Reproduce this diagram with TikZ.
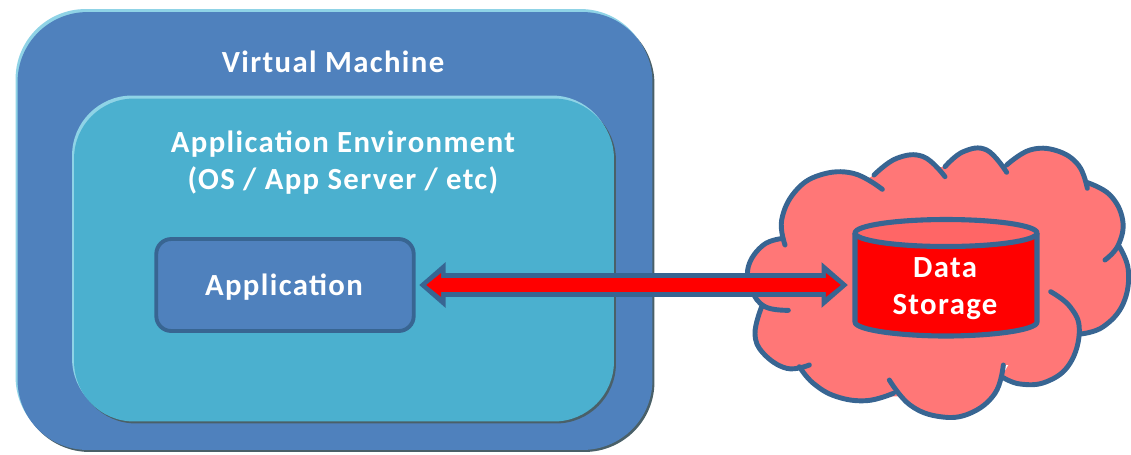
\documentclass[tikz,border=0pt]{standalone}
\usepackage{fontspec}
\setmainfont{Carlito}
\usepackage{tikz}
\usetikzlibrary{shapes,arrows.meta}
\definecolor{vmblue}{HTML}{4F81BD}
\definecolor{envteal}{HTML}{4BB0CF}
\definecolor{rimlight}{HTML}{8FD3E6}
\definecolor{rimdark}{HTML}{4A6068}
\definecolor{edgeblue}{HTML}{386592}
\definecolor{cloudpink}{HTML}{FF7777}
\definecolor{lidpink}{HTML}{FF6666}
\tikzstyle{plate} = [rectangle, inner sep=0pt]
\tikzstyle{vmplate} = [plate, fill=vmblue, minimum width=12.7cm, minimum height=8.76cm, rounded corners=1.4cm]
\tikzstyle{envplate} = [plate, fill=envteal, minimum width=10.8cm, minimum height=6.46cm, rounded corners=1.2cm]
\tikzstyle{appbox} = [plate, draw=edgeblue, line width=2.2pt, fill=vmblue, minimum width=5.15cm, minimum height=1.84cm, rounded corners=0.3cm]
\tikzstyle{storebox} = [plate, minimum width=3.7cm, minimum height=2.42cm]
\tikzstyle{caption} = [text=white, font=\fontsize{17.5}{21}\selectfont\bfseries\addfontfeatures{LetterSpace=4.5}, align=center, inner sep=0pt]
\tikzstyle{cloudline} = [draw=edgeblue, line width=2.8pt, fill=cloudpink, line cap=round, line join=round]
\tikzstyle{drumline} = [draw=edgeblue, line width=2.9pt, line join=round]
\tikzstyle{linkout} = [draw=edgeblue, line width=13.2pt, {Stealth[inset=0pt,length=15pt,width=25pt]}-{Stealth[inset=0pt,length=15pt,width=25pt]}]
\tikzstyle{linkin} = [draw=red, line width=8pt, {Stealth[inset=0pt,length=8.5pt,width=13pt]}-{Stealth[inset=0pt,length=8.5pt,width=13pt]}]
\begin{document}
\begin{tikzpicture}[x=0.02cm, y=-0.02cm]
    \useasboundingbox (0,0) rectangle (1131,454);
    % virtual machine, rims first
    \node [vmplate, fill=rimdark] (vmDark) at (337,233) {};
    \node [vmplate, fill=rimlight] (vmLight) at (333,228) {};
    \node [vmplate] (vm) at (335,231) {};
    \node [caption] (vmLabel) at (333,62) {Virtual Machine};
    % application environment
    \node [envplate, fill=rimdark] (envDark) at (346,262) {};
    \node [envplate, fill=rimlight] (envLight) at (342,257) {};
    \node [envplate] (env) at (344,260) {};
    \node [caption] (envLabel) at (343,163) {Application Environment\\(OS / App Server / etc)};
    \node [appbox] (app) at (285,285) {};
    \node [caption] (appLabel) at (284,287) {Application};
    % cloud
    \begin{scope}[shift={(720,130)}, x=0.00667cm, y=-0.00667cm]
    \fill [cloudpink] (190,340) -- (195,300) -- (462,135) -- (675,110) -- (860,105) -- (1100,157) -- (1195,345) -- (1210,420) -- (1082,612) -- (1050,700) -- (850,705) -- (825,790) -- (500,800) -- (260,730) -- (125,530) -- cycle;
    \draw [cloudline]
      plot [smooth, tension=0.7] coordinates {(190,325) (130,345) (85,410) (95,480) (135,530) (205,541)}
      plot [smooth, tension=0.7] coordinates {(195,345) (185,270) (225,185) (300,135) (400,130) (487,178)}
      plot [smooth, tension=0.7] coordinates {(462,135) (530,85) (610,80) (675,140)}
      plot [smooth, tension=0.7] coordinates {(675,110) (730,65) (800,60) (860,127)}
      plot [smooth, tension=0.7] coordinates {(860,105) (930,60) (1010,62) (1075,105) (1102,175)}
      plot [smooth, tension=0.7] coordinates {(1100,157) (1170,195) (1208,270) (1195,345) (1155,390)}
      plot [smooth, tension=0.7] coordinates {(1195,345) (1225,420) (1210,520) (1150,590) (1082,612)}
      plot [smooth, tension=0.7] coordinates {(992,485) (1050,530) (1078,600) (1050,700) (980,755) (900,762) (845,740)}
      plot [smooth, tension=0.7] coordinates {(850,705) (825,790) (750,850) (660,860) (570,825) (508,750)}
      plot [smooth, tension=0.7] coordinates {(520,790) (440,812) (350,800) (280,760) (238,710)}
      plot [smooth, tension=0.7] coordinates {(268,705) (200,715) (130,670) (105,610) (125,530)};
    \end{scope}
    % data storage drum
    \node [storebox] (store) at (946,277) {};
    \draw [drumline, fill=red] (855,233) -- (855,322) .. controls (855,330) and (900,336) .. (946,336) .. controls (992,336) and (1037,330) .. (1037,322) -- (1037,233);
    \draw [drumline, fill=lidpink] (946,233) ellipse [x radius=91, y radius=13.5];
    \node [caption] (storeLabel) at (945,289) {Data\\Storage};
    % link between application and storage
    \path [linkout] ([xshift=2pt]app.east) -- ([xshift=-3pt]app.east -| store.west);
    \path [linkin] ([xshift=6pt]app.east) -- ([xshift=-7pt]app.east -| store.west);
\end{tikzpicture}
\end{document}
